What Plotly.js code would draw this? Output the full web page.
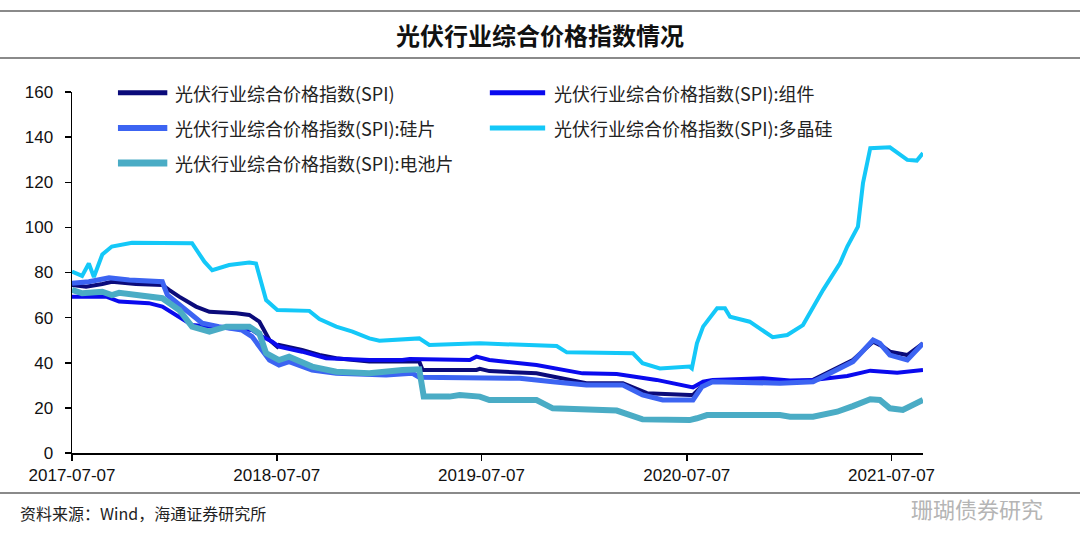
<!DOCTYPE html>
<html>
<head>
<meta charset="utf-8">
<script src="https://cdn.plot.ly/plotly-3.0.1.min.js"></script>
<style>html,body{margin:0;padding:0;background:#fff;}#chart{width:1080px;height:553px;}</style>
</head>
<body>
<div id="chart"></div>
<script>
// ---- data ----
const seriesNames = [
  '光伏行业综合价格指数(SPI)',
  '光伏行业综合价格指数(SPI):组件',
  '光伏行业综合价格指数(SPI):硅片',
  '光伏行业综合价格指数(SPI):多晶硅',
  '光伏行业综合价格指数(SPI):电池片'
];

const spiDates = ['2017-07-07','2017-08-01','2017-08-30','2017-09-16','2017-10-29','2017-12-15','2017-12-27','2018-01-14','2018-02-13','2018-03-09','2018-04-26','2018-05-19','2018-06-06','2018-06-24','2018-07-08','2018-07-11','2018-08-21','2018-09-21','2018-10-21','2018-11-19','2018-12-19','2019-02-16','2019-03-18','2019-03-24','2019-06-28','2019-07-04','2019-07-21','2019-10-13','2020-01-10','2020-03-15','2020-04-27','2020-07-12','2020-07-18','2020-08-05','2020-08-22','2020-12-20','2021-02-17','2021-04-29','2021-06-04','2021-06-22','2021-07-04','2021-08-04','2021-09-01'];
const spiVals  = [74.5,73.7,74.9,75.9,74.9,74.5,72.3,69.3,64.9,62.6,61.9,61.2,58.2,50.1,47.1,47.9,45.7,43.5,42.0,41.2,40.5,40.5,40.5,36.8,36.8,37.3,36.3,35.3,30.9,30.9,26.5,25.7,25.7,30.1,31.6,31.2,32.4,41.2,49.3,47.1,44.9,43.4,48.6];

const moduleDates = ['2017-07-07','2017-09-06','2017-09-29','2017-11-21','2017-12-15','2018-01-14','2018-02-06','2018-03-14','2018-04-26','2018-05-24','2018-06-11','2018-06-29','2018-07-11','2018-08-21','2018-10-03','2018-12-19','2019-02-16','2019-03-01','2019-06-16','2019-06-28','2019-07-21','2019-10-13','2020-01-03','2020-03-04','2020-05-14','2020-06-30','2020-07-18','2020-08-05','2020-08-22','2020-11-20','2021-01-07','2021-02-17','2021-04-19','2021-05-30','2021-07-17','2021-09-01'];
const moduleVals  = [69.3,69.3,67.1,66.4,64.9,60.4,56.7,56.0,55.3,54.5,51.6,49.3,47.1,44.9,42.0,41.2,41.2,41.7,41.2,42.7,41.2,39.0,35.3,35.0,32.4,29.7,29.1,31.6,32.4,33.1,32.1,32.4,34.1,36.5,35.6,36.8];

const waferDates = ['2017-07-07','2017-08-06','2017-09-11','2017-10-17','2017-12-15','2017-12-24','2018-01-26','2018-02-24','2018-03-26','2018-05-06','2018-05-24','2018-06-11','2018-06-24','2018-07-11','2018-07-29','2018-09-08','2018-10-21','2019-01-18','2019-03-06','2019-03-18','2019-09-13','2019-11-11','2020-01-10','2020-03-15','2020-04-19','2020-05-25','2020-07-18','2020-08-03','2020-08-22','2020-12-20','2021-02-17','2021-04-29','2021-06-04','2021-06-16','2021-07-04','2021-08-04','2021-09-01'];
const waferVals  = [75.2,75.9,77.7,76.7,75.9,70.0,63.4,57.5,56.0,54.5,51.6,45.7,41.2,39.0,40.5,36.8,35.3,34.6,35.3,33.6,33.1,31.6,30.1,30.1,25.7,23.5,23.5,29.4,31.6,30.9,31.6,40.5,50.1,48.6,43.4,41.2,48.6];

const polyDates = ['2017-07-07','2017-07-25','2017-08-06','2017-08-15','2017-08-30','2017-09-16','2017-10-22','2018-02-06','2018-02-28','2018-03-14','2018-04-13','2018-05-19','2018-05-31','2018-06-09','2018-06-18','2018-07-08','2018-09-03','2018-09-21','2018-10-21','2018-11-19','2018-12-19','2019-01-06','2019-03-18','2019-04-05','2019-07-04','2019-11-18','2019-12-06','2020-04-02','2020-04-19','2020-05-20','2020-07-12','2020-07-16','2020-07-25','2020-08-05','2020-08-22','2020-08-30','2020-09-13','2020-09-22','2020-10-27','2020-12-07','2021-01-02','2021-01-30','2021-03-07','2021-04-06','2021-04-19','2021-05-08','2021-05-17','2021-05-30','2021-07-04','2021-08-04','2021-08-21','2021-09-01'];
const polyVals  = [80.4,78.5,84.0,78.0,88.0,91.5,93.2,93.0,84.8,81.0,83.3,84.4,84.0,75.0,67.8,63.4,63.0,59.4,56.0,53.8,50.8,49.8,50.8,47.9,48.6,47.4,44.6,44.2,39.8,37.5,38.3,37.5,48.6,56.0,62.0,64.1,64.1,60.4,58.2,51.3,52.3,56.7,72.3,84.1,91.5,100.3,119.6,135.1,135.5,129.9,129.6,132.9];

const cellDates = ['2017-07-07','2017-07-25','2017-08-30','2017-09-16','2017-09-29','2017-10-29','2017-12-15','2018-01-14','2018-02-06','2018-03-09','2018-04-08','2018-05-19','2018-06-06','2018-06-18','2018-07-11','2018-07-29','2018-09-08','2018-10-21','2018-12-19','2019-02-16','2019-03-18','2019-03-26','2019-05-11','2019-05-29','2019-07-04','2019-07-21','2019-10-13','2019-11-11','2020-03-04','2020-04-19','2020-07-12','2020-07-25','2020-08-12','2020-12-20','2021-01-07','2021-02-17','2021-04-01','2021-04-29','2021-05-30','2021-06-16','2021-07-04','2021-07-27','2021-09-01'];
const cellVals  = [72.3,70.8,71.5,70.0,71.0,70.0,68.6,63.4,56.0,53.8,56.0,56.0,53.0,44.2,41.2,42.7,38.3,36.0,35.3,36.8,37.1,25.0,25.0,25.7,25.0,23.5,23.5,19.8,18.8,14.9,14.6,15.4,16.8,16.8,16.1,16.1,18.3,20.8,23.8,23.5,19.8,19.1,23.5];

const xTickVals = ['2017-07-07','2018-07-07','2019-07-07','2020-07-07','2021-07-07'];
const yTickVals = [0,20,40,60,80,100,120,140,160];

const titleText = '光伏行业综合价格指数情况';
const sourceText = '资料来源：Wind，海通证券研究所';
const watermarkText = '珊瑚债券研究';

// ---- styles ----
const colors = ['#0B0B7A','#0A0AEE','#3C64F2','#14C8F8','#4AACC5'];
const widths = [4,4,5,4,6];

const xs = [spiDates, moduleDates, waferDates, polyDates, cellDates];
const ys = [spiVals, moduleVals, waferVals, polyVals, cellVals];

const traces = seriesNames.map((n,i)=>({
  type:'scatter', mode:'lines', name:n, x:xs[i], y:ys[i],
  line:{color:colors[i], width:widths[i]}, showlegend:false, hoverinfo:'skip'
}));

// manual two-column legend (paper coordinates)
const legPos = [
  {x0:0.054, x1:0.112, tx:0.119, y:0.998},
  {x0:0.491, x1:0.556, tx:0.564, y:0.998},
  {x0:0.054, x1:0.112, tx:0.119, y:0.900},
  {x0:0.491, x1:0.556, tx:0.564, y:0.900},
  {x0:0.054, x1:0.112, tx:0.119, y:0.803}
];
const shapes = [];
const annotations = [];
legPos.forEach((p,i)=>{
  shapes.push({type:'line', xref:'paper', yref:'paper', x0:p.x0, x1:p.x1, y0:p.y, y1:p.y,
    line:{color:colors[i], width:widths[i]+1}});
  annotations.push({xref:'paper', yref:'paper', x:p.tx, y:p.y, xanchor:'left', yanchor:'middle',
    text:seriesNames[i], showarrow:false,
    font:{family:'"Noto Sans CJK SC", sans-serif', size:18, color:'#222'}});
});
// rules
[11, 58, 493].forEach(py=>{
  shapes.push({type:'line', xref:'paper', yref:'paper', x0:-72/851, x1:(1080-72)/851,
    y0:(453-py)/361, y1:(453-py)/361, line:{color:'#8a8a8a', width:2}});
});
annotations.push({xref:'paper', yref:'paper', x:(540-72)/851, y:(453-35)/361, xanchor:'center', yanchor:'middle',
  text:'<b>'+titleText+'</b>', showarrow:false,
  font:{family:'"Noto Sans CJK SC", sans-serif', size:24, color:'#111'}});
annotations.push({xref:'paper', yref:'paper', x:(18-72)/851, y:(453-513)/361, xanchor:'left', yanchor:'middle',
  text:sourceText, showarrow:false,
  font:{family:'"Noto Sans CJK SC", sans-serif', size:16, color:'#222'}});
annotations.push({xref:'paper', yref:'paper', x:(1045-72)/851, y:(453-508)/361, xanchor:'right', yanchor:'middle',
  text:watermarkText, showarrow:false,
  font:{family:'"Noto Sans CJK SC", sans-serif', size:22, color:'#b5b5b5'}});

const layout = {
  width:1080, height:553,
  margin:{l:72, r:157, t:92, b:100},
  paper_bgcolor:'#fff', plot_bgcolor:'#fff',
  showlegend:false,
  font:{family:'"Liberation Sans", Arial, sans-serif', size:17, color:'#111'},
  xaxis:{
    type:'date', range:['2017-07-07','2021-09-01'],
    tickmode:'array', tickvals:xTickVals, ticktext:xTickVals,
    showgrid:false, zeroline:false, showline:true, linecolor:'#000', linewidth:1.5,
    ticks:'outside', ticklen:6, tickwidth:1.5, tickcolor:'#000',
    tickfont:{size:17, color:'#111'}
  },
  yaxis:{
    range:[0,160], tickmode:'array', tickvals:yTickVals,
    showgrid:false, zeroline:false, showline:true, linecolor:'#000', linewidth:1.5,
    ticks:'outside', ticklen:6, tickwidth:1.5, tickcolor:'#000',
    ticklabelstandoff:8,
    tickfont:{size:17, color:'#111'}
  },
  shapes:shapes, annotations:annotations
};

Plotly.newPlot('chart', traces, layout, {staticPlot:true, displayModeBar:false});
</script>
</body>
</html>
